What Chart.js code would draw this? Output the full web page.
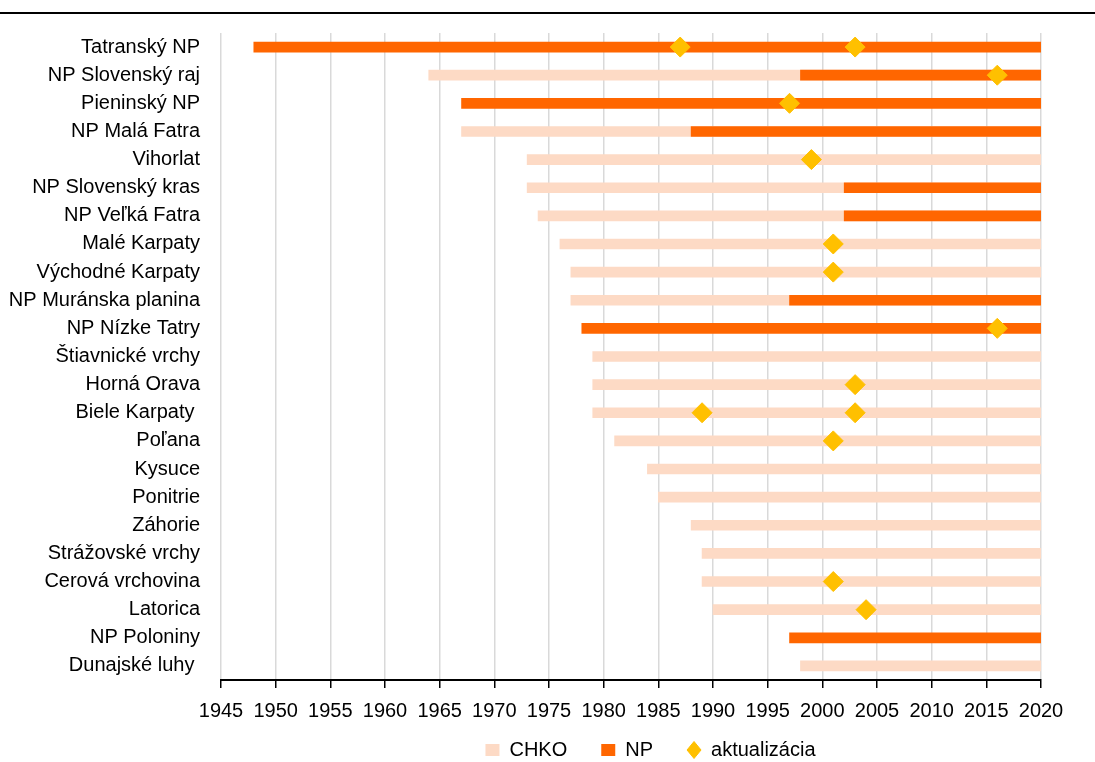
<!DOCTYPE html>
<html>
<head>
<meta charset="utf-8">
<script src="https://cdn.jsdelivr.net/npm/chart.js@4.4.1/dist/chart.umd.min.js"></script>
<style>
  html, body { margin: 0; padding: 0; background: #fff; }
</style>
</head>
<body>
<canvas id="parky" width="1095" height="762"></canvas>
<script>
// chránené územia: vznik CHKO, vyhlásenie NP a aktualizácie
const parks = ['Tatranský NP', 'NP Slovenský raj', 'Pieninský NP', 'NP Malá Fatra', 'Vihorlat',
  'NP Slovenský kras', 'NP Veľká Fatra', 'Malé Karpaty', 'Východné Karpaty', 'NP Muránska planina',
  'NP Nízke Tatry', 'Štiavnické vrchy', 'Horná Orava', 'Biele Karpaty ', 'Poľana', 'Kysuce',
  'Ponitrie', 'Záhorie', 'Strážovské vrchy', 'Cerová vrchovina', 'Latorica', 'NP Poloniny',
  'Dunajské luhy '];
const chkoStart = [null, 1964, null, 1967, 1973, 1973, 1974, 1976, 1977, 1977,
  null, 1979, 1979, 1979, 1981, 1984, 1985, 1988, 1989, 1989, 1990, null, 1998];
const npStart = [1948, 1998, 1967, 1988, null, 2002, 2002, null, null, 1997,
  1978, null, null, null, null, null, null, null, null, null, null, 1997, null];
const updates = [[1987, 2003], [2016], [1997], [], [1999], [], [], [2001], [2001], [],
  [2016], [], [2003], [1989, 2003], [2001], [], [], [], [], [2001], [2004], [], []];
const endYear = 2020;
const yearTicks = [1945, 2020, 5];

const FONT = "'Liberation Sans', Arial, sans-serif";

const topRule = {
  id: 'topRule',
  beforeDraw(chart) {
    const c = chart.ctx;
    c.save();
    c.fillStyle = '#fff';
    c.fillRect(0, 0, chart.width, chart.height);
    c.fillStyle = '#000';
    c.fillRect(0, 12, chart.width, 2);
    c.restore();
  },
  // legenda: posun pod os, trochu vpravo ako v origináli
  afterLayout(chart) {
    const lg = chart.legend;
    const dx = 130;
    lg.left += dx; lg.right += dx;
    lg.top = 706; lg.bottom = chart.height;
  }
};

const ctx = document.getElementById('parky').getContext('2d');
new Chart(ctx, {
  type: 'bar',
  data: {
    labels: parks,
    datasets: [{
      label: 'CHKO',
      data: chkoStart.map(s => s === null ? null : [s, endYear]),
      backgroundColor: '#FDDAC5',
      indexAxis: 'y',
      grouped: false,
      barThickness: 10,
      pointStyle: 'rect',
      order: 3
    }, {
      label: 'NP',
      data: npStart.map(s => s === null ? null : [s, endYear]),
      backgroundColor: '#FF6600',
      indexAxis: 'y',
      grouped: false,
      barThickness: 10,
      pointStyle: 'rect',
      order: 2
    }, {
      type: 'scatter',
      label: 'aktualizácia',
      data: updates.flatMap((ys, i) => ys.map(y => ({ x: y, y: parks[i] }))),
      backgroundColor: '#FFC000',
      borderColor: '#FFC000',
      pointStyle: 'rectRot',
      pointRadius: 10,
      pointHoverRadius: 10,
      order: 1
    }]
  },
  options: {
    responsive: false,
    animation: false,
    layout: { padding: { top: 30, right: 54, left: 0, bottom: 0 } },
    scales: {
      x: {
        type: 'linear',
        offset: false,
        min: yearTicks[0],
        max: yearTicks[1],
        ticks: {
          stepSize: yearTicks[2],
          color: '#000',
          padding: 11,
          maxRotation: 0,
          autoSkip: false,
          font: { family: FONT, size: 20 },
          callback: v => String(v)
        },
        grid: { offset: false, color: '#d9d9d9', lineWidth: 1.5, tickColor: '#000', tickLength: 8 },
        border: { color: '#000', width: 2 },
        afterFit(s) { s.height = 52; }
      },
      y: {
        type: 'category',
        labels: parks,
        offset: true,
        ticks: { color: '#000', padding: 21, autoSkip: false, font: { family: FONT, size: 20 } },
        grid: { display: false, drawTicks: false },
        border: { display: false },
        afterFit(s) { s.width = 221; }
      }
    },
    plugins: {
      tooltip: { enabled: false },
      legend: {
        position: 'bottom',
        maxHeight: 30,
        labels: {
          usePointStyle: true,
          boxHeight: 12,
          pointStyleWidth: 14,
          padding: 34,
          color: '#000',
          font: { family: FONT, size: 20 },
          sort: (a, b) => a.datasetIndex - b.datasetIndex
        }
      }
    }
  },
  plugins: [topRule]
});
</script>
</body>
</html>
